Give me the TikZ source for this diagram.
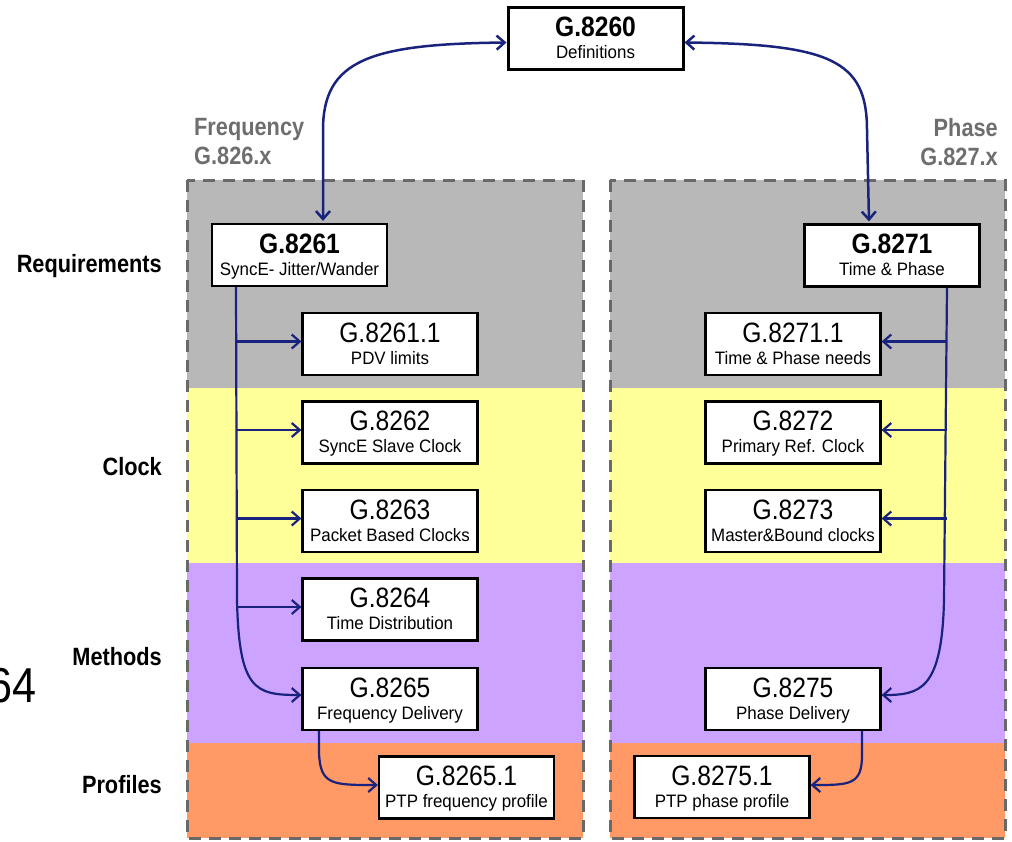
\documentclass[tikz,border=0pt]{standalone}
\usepackage{fontspec}
\setmainfont{Liberation Sans}
\newfontfamily\hdfont{Liberation Sans}[FakeStretch=0.88]
\newfontfamily\sbfont{Liberation Sans}[FakeStretch=0.94]
\newfontfamily\lbfont{Liberation Sans}[FakeStretch=0.87]
\usetikzlibrary{arrows.meta}
\definecolor{navy}{RGB}{25,35,125}
\definecolor{bandgray}{RGB}{184,184,184}
\definecolor{bandyellow}{RGB}{255,255,153}
\definecolor{bandpurple}{RGB}{204,164,255}
\definecolor{bandorange}{RGB}{255,153,102}
\definecolor{dashgray}{RGB}{105,105,105}
\definecolor{labgray}{RGB}{110,110,110}
\newcommand\hd[1]{{\hdfont\fontsize{28}{28}\selectfont #1}}
\newcommand\hdb[1]{{\hdfont\bfseries\fontsize{28}{28}\selectfont #1}}
\newcommand\sbt[1]{{\sbfont\fontsize{18}{18}\selectfont #1}}
\newcommand\twoline[2]{\vbox{\offinterlineskip\halign{\hfil##\hfil\cr\raisebox{0pt}[18pt][0pt]{#1}\cr\raisebox{0pt}[22pt][0pt]{#2}\cr}}}
\tikzset{
  bx/.style={draw=black, line width=2.2pt, fill=white, minimum width=175pt, minimum height=62pt, inner sep=0pt},
  rowlab/.style={anchor=base east, inner sep=0pt, font=\lbfont\bfseries\fontsize{25}{25}\selectfont},
  grplab/.style={inner sep=0pt, text=labgray, font=\lbfont\bfseries\fontsize{25}{29}\selectfont},
  region/.style={draw=dashgray, line width=3pt, dash pattern=on 12pt off 8pt},
  conn/.style={draw=navy, line width=2.2pt, -{Straight Barb[length=8pt,width=14pt]}},
  conn2/.style={draw=navy, line width=2.5pt, {Straight Barb[length=8pt,width=14pt]}-{Straight Barb[length=8pt,width=14pt]}},
}
\begin{document}
\begin{tikzpicture}[x=1pt,y=-1pt]
\useasboundingbox (0,0) rectangle (1012,841);
% bands
\foreach \xa/\xb in {187/583, 610/1005}{
  \fill[bandgray] (\xa,180) rectangle (\xb,388);
  \fill[bandyellow] (\xa,388) rectangle (\xb,563);
  \fill[bandpurple] (\xa,563) rectangle (\xb,743);
  \fill[bandorange] (\xa,743) rectangle (\xb,838);
}
\draw[region] (187,180) rectangle (583,838);
\draw[region] (610,180) rectangle (1005,838);

% labels
\node[grplab, anchor=west, align=left] (freq) at (194,141.5) {Frequency\\G.826.x};
\node[grplab, anchor=east, align=right] (phase) at (998,142) {Phase\\G.827.x};
\node[rowlab] (req) at (162,272) {Requirements};
\node[rowlab] (clk) at (162,475) {Clock};
\node[rowlab] (meth) at (162,665) {Methods};
\node[rowlab] (prof) at (162,793) {Profiles};
\node[anchor=base east, inner sep=0pt, font=\hdfont\fontsize{49}{49}\selectfont] (frag) at (37,702) {64};

% boxes
\node[bx, line width=3pt, minimum width=175pt, minimum height=62pt] (g8260) at (595.5,38.5) {\twoline{\hdb{G.8260}}{\sbt{Definitions}}};
\node[bx] (g8261) at (299.5,255) {\twoline{\hdb{G.8261}}{\sbt{SyncE- Jitter/Wander}}};
\node[bx] (g82611) at (390,344) {\twoline{\hd{G.8261.1}}{\sbt{PDV limits}}};
\node[bx] (g8262) at (390,432.5) {\twoline{\hd{G.8262}}{\sbt{SyncE Slave Clock}}};
\node[bx] (g8263) at (390,521) {\twoline{\hd{G.8263}}{\sbt{Packet Based Clocks}}};
\node[bx] (g8264) at (390,609.5) {\twoline{\hd{G.8264}}{\sbt{Time Distribution}}};
\node[bx] (g8265) at (390,699) {\twoline{\hd{G.8265}}{\sbt{Frequency Delivery}}};
\node[bx] (g82651) at (466.5,787.5) {\twoline{\hd{G.8265.1}}{\sbt{PTP frequency profile}}};
\node[bx] (g8271) at (892,255.5) {\twoline{\hdb{G.8271}}{\sbt{Time \& Phase}}};
\node[bx] (g82711) at (793,344) {\twoline{\hd{G.8271.1}}{\sbt{Time \& Phase needs}}};
\node[bx] (g8272) at (793,432.5) {\twoline{\hd{G.8272}}{\sbt{Primary Ref. Clock}}};
\node[bx] (g8273) at (793,521) {\twoline{\hd{G.8273}}{\sbt{Master\&Bound clocks}}};
\node[bx] (g8275) at (793,699) {\twoline{\hd{G.8275}}{\sbt{Phase Delivery}}};
\node[bx] (g82751) at (722,787) {\twoline{\hd{G.8275.1}}{\sbt{PTP phase profile}}};

% top connectors
\draw[conn2] ([yshift=-4pt]g8260.west) .. controls (370,44) and (323,60) .. (323,130) -- ([xshift=23.5pt,yshift=2pt]g8261.north);
\draw[conn2] ([yshift=-4pt]g8260.east) .. controls (830,44) and (867,60) .. (867,130) -- ([xshift=-23pt,yshift=2pt]g8271.north);

% left trunk
\coordinate (lt) at ([xshift=-63.5pt]g8261.south);
\draw[conn] (lt) -- (237,600) .. controls (239,690) and (255,695) .. ([yshift=4pt]g8265.west);
\foreach \b in {g82611,g8262,g8263,g8264}{
  \coordinate (a\b) at ([yshift=2.5pt]\b.west);
  \draw[conn] (lt |- a\b) -- (a\b);
}
% right trunk
\coordinate (rt) at ([xshift=55pt]g8271.south);
\draw[conn] (rt) -- (944,600) .. controls (942,690) and (920,695) .. ([yshift=4pt]g8275.east);
\foreach \b in {g82711,g8272,g8273}{
  \coordinate (a\b) at ([yshift=2.5pt]\b.east);
  \draw[conn] (rt |- a\b) -- (a\b);
}
% profiles
\coordinate (fd) at ([xshift=-71pt]g8265.south);
\draw[conn] (fd) -- (319,752) .. controls (320,785) and (332,785) .. ([yshift=2.5pt]g82651.west);
\coordinate (pd) at ([xshift=69pt]g8275.south);
\draw[conn] (pd) -- (862,755) .. controls (862,785) and (850,785) .. ([yshift=2pt]g82751.east);
\end{tikzpicture}
\end{document}
